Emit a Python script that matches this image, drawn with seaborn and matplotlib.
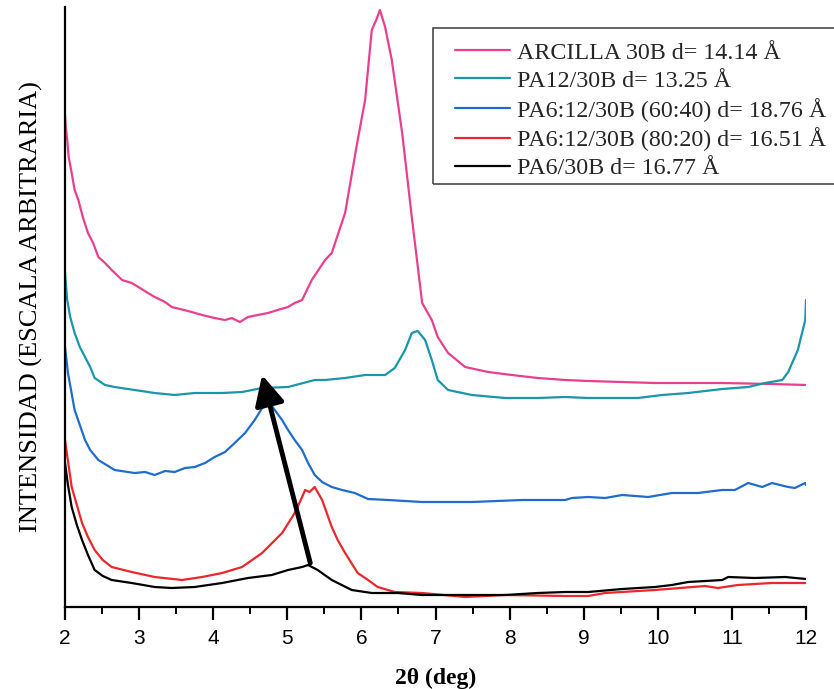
import matplotlib
matplotlib.use("Agg")
import matplotlib.pyplot as plt
from matplotlib.patches import Rectangle
import seaborn as sns
import pandas as pd

# ---- data (2theta in degrees, intensity in arbitrary units) ----
labels = ["ARCILLA 30B d= 14.14 Å", "PA12/30B d= 13.25 Å",
          "PA6:12/30B (60:40) d= 18.76 Å", "PA6:12/30B (80:20) d= 16.51 Å",
          "PA6/30B d= 16.77 Å"]
colors = ["#E8408F", "#1B95AA", "#1F6CCB", "#E8282C", "#000000"]

arcilla_x = [2.0, 2.01, 2.03, 2.05, 2.09, 2.13, 2.18, 2.24, 2.31, 2.38, 2.45, 2.54, 2.63, 2.70,
             2.77, 2.90, 2.99, 3.12, 3.21, 3.35, 3.44, 3.66, 3.85, 4.02, 4.16, 4.25, 4.36,
             4.47, 4.60, 4.74, 4.87, 5.01, 5.10, 5.20, 5.33, 5.51, 5.60, 5.78, 5.95, 6.05,
             6.14, 6.20, 6.25, 6.32, 6.41, 6.55, 6.68, 6.82, 6.95, 7.03, 7.17, 7.40, 7.71,
             8.03, 8.38, 8.75, 9.06, 9.96, 10.87, 11.54, 12.0]
arcilla_y = [492, 480, 467, 450, 434, 417, 407, 390, 374, 364, 350, 344, 337, 332,
             327, 324, 320, 314, 310, 305, 300, 296, 292, 289, 287, 289, 285,
             290, 292, 294, 297, 300, 304, 307, 327, 347, 354, 394, 467, 507,
             577, 587, 597, 580, 547, 474, 390, 304, 287, 270, 254, 240, 235,
             232, 229, 227, 226, 224, 224, 223, 222]

pa12_x = [2.0, 2.03, 2.07, 2.13, 2.20, 2.27, 2.34, 2.40, 2.54, 2.67, 2.94, 3.21, 3.48, 3.75,
          4.12, 4.39, 4.66, 5.01, 5.37, 5.51, 5.78, 6.05, 6.32, 6.45, 6.59, 6.68, 6.76, 6.86,
          6.95, 7.03, 7.17, 7.49, 7.94, 8.38, 8.75, 9.06, 9.73, 10.06, 10.41, 10.87, 11.22,
          11.45, 11.68, 11.76, 11.89, 11.99, 12.0]
pa12_y = [334, 307, 290, 274, 260, 250, 240, 229, 222, 220, 217, 214, 212, 214,
          214, 215, 219, 220, 227, 227, 229, 232, 232, 239, 257, 274, 276, 267,
          247, 227, 217, 212, 209, 209, 210, 209, 209, 212, 214, 218, 220,
          224, 227, 235, 257, 287, 307]

pa612_6040_x = [2.0, 2.04, 2.13, 2.20, 2.27, 2.34, 2.45, 2.67, 2.94, 3.08, 3.21, 3.35, 3.48,
                3.62, 3.75, 3.89, 4.02, 4.16, 4.29, 4.43, 4.56, 4.67, 4.74, 4.83, 4.93, 5.01,
                5.10, 5.20, 5.28, 5.37, 5.47, 5.60, 5.74, 5.91, 6.09, 6.36, 6.82, 7.49, 8.17,
                8.75, 8.84, 9.06, 9.29, 9.52, 9.87, 10.19, 10.54, 10.87, 11.04, 11.22, 11.41,
                11.54, 11.76, 11.85, 11.99, 12.0]
pa612_6040_y = [260, 234, 197, 182, 167, 157, 147, 137, 134, 135, 132, 136, 135,
                139, 140, 144, 150, 155, 164, 174, 187, 200, 207, 197, 187, 177,
                167, 157, 144, 132, 125, 120, 117, 114, 108, 107, 105, 105, 107,
                107, 109, 110, 109, 112, 110, 114, 114, 117, 117, 124, 120,
                124, 120, 119, 124, 122]

pa612_8020_x = [2.0, 2.09, 2.16, 2.23, 2.31, 2.40, 2.51, 2.63, 2.9, 3.21, 3.58, 3.85, 4.12,
                4.39, 4.66, 4.93, 5.10, 5.20, 5.24, 5.30, 5.37, 5.47, 5.60, 5.68, 5.78, 5.95,
                6.09, 6.22, 6.45, 6.82, 7.40, 7.94, 8.75, 9.06, 9.29, 9.96, 10.64, 10.81,
                11.08, 11.54, 12.0]
pa612_8020_y = [167, 120, 102, 84, 70, 57, 47, 40, 35, 30, 27, 30, 34,
                40, 54, 74, 94, 110, 117, 115, 120, 107, 80, 67, 54, 34,
                27, 20, 15, 14, 10, 12, 11, 11, 14, 17, 21, 19,
                22, 24, 24]

pa6_x = [2.0, 2.04, 2.09, 2.16, 2.23, 2.31, 2.40, 2.51, 2.63, 2.9, 3.21, 3.44, 3.75, 4.12,
         4.47, 4.79, 5.01, 5.20, 5.28, 5.41, 5.60, 5.87, 6.14, 6.49, 6.82, 7.40, 7.94, 8.38,
         8.75, 9.06, 9.52, 9.96, 10.19, 10.41, 10.87, 10.95, 11.31, 11.72, 12.0]
pa6_y = [144, 122, 100, 82, 67, 52, 37, 31, 27, 24, 20, 19, 20, 24,
         29, 32, 37, 40, 42, 37, 27, 17, 14, 14, 12, 12, 12, 14,
         15, 15, 18, 20, 22, 25, 27, 30, 29, 30, 28]

xticks = [2, 3, 4, 5, 6, 7, 8, 9, 10, 11, 12]
arrow_tail = (5.31, 44)
arrow_head = (4.66, 232)

series = [(arcilla_x, arcilla_y), (pa12_x, pa12_y), (pa612_6040_x, pa612_6040_y),
          (pa612_8020_x, pa612_8020_y), (pa6_x, pa6_y)]
rows = []
for lab, (xs, ys) in zip(labels, series):
    for xv, yv in zip(xs, ys):
        rows.append({"x": xv, "y": yv, "muestra": lab})
df = pd.DataFrame(rows)

sns.set_theme(style="white")
plt.rcParams["font.family"] = ["Liberation Serif", "DejaVu Serif"]

W, H = 834, 689
fig = plt.figure(figsize=(W / 100, H / 100), dpi=100)
ax = fig.add_axes([65 / W, 1 - 607 / H, 741 / W, 600 / H])

sns.lineplot(data=df, x="x", y="y", hue="muestra", hue_order=labels,
             palette=dict(zip(labels, colors)), estimator=None, sort=False,
             linewidth=1.6, ax=ax)

ax.set_xlim(2, 12)
ax.set_ylim(0, 600)
ax.set_xticks(xticks)
ax.set_xticks([v + 0.5 for v in xticks[:-1]], minor=True)
ax.set_yticks([])
for s in ["top", "right"]:
    ax.spines[s].set_visible(False)
for s in ["left", "bottom"]:
    ax.spines[s].set_color("black")
    ax.spines[s].set_linewidth(1.6)
ax.tick_params(axis="x", which="major", direction="out", length=9, width=1.6,
               colors="black", pad=7, bottom=True)
ax.tick_params(axis="x", which="minor", direction="out", length=5, width=1.4,
               colors="black", bottom=True)
ax.set_xticklabels([str(v) for v in xticks], fontfamily="Liberation Sans", fontsize=15)

ax.set_xlabel("2θ (deg)", fontsize=17, fontweight="bold", labelpad=14, color="black")
ax.set_ylabel("INTENSIDAD (ESCALA ARBITRARIA)", fontsize=19, labelpad=16, color="black")

ax.annotate("", xy=arrow_head, xytext=arrow_tail,
            arrowprops=dict(arrowstyle="-|>,head_length=0.9,head_width=0.45",
                            lw=3.5, color="black", shrinkA=0, shrinkB=0,
                            mutation_scale=20))

# legend (frame drawn separately so it can run off the right edge as in the original)
leg = ax.legend(loc="upper left", bbox_to_anchor=(455 / W, 1 - 42 / H),
                bbox_transform=fig.transFigure,
                frameon=False, fontsize=17.3, handlelength=2.3, handletextpad=0.3,
                borderpad=0, labelspacing=0.25, borderaxespad=0)
for h in leg.get_lines():
    h.set_linewidth(1.6)
fig.patches.append(Rectangle((433 / W, 1 - 184 / H), (850 - 433) / W, 156 / H,
                             transform=fig.transFigure, fill=False,
                             edgecolor="#4a4a4a", linewidth=1.2, clip_on=False))

fig.savefig("out.png", dpi=100, facecolor="white")
